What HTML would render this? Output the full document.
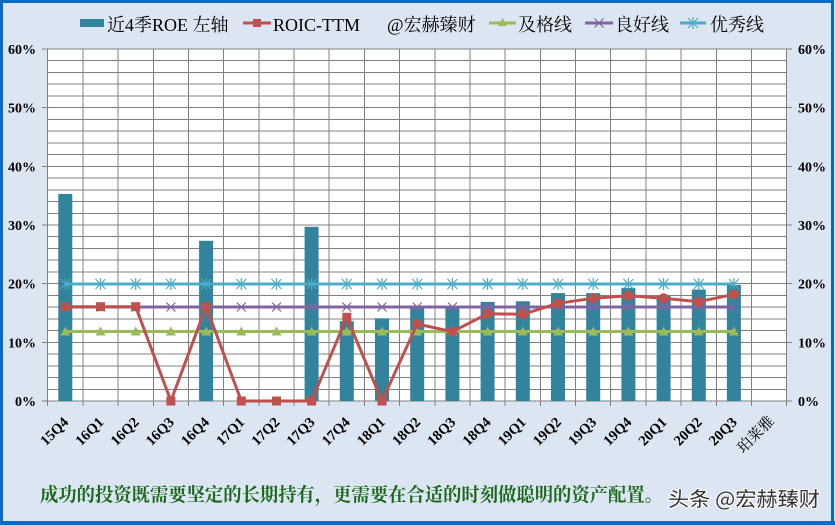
<!DOCTYPE html>
<html><head><meta charset="utf-8"><style>
html,body{margin:0;padding:0;background:#dce6f2;}
svg{display:block;}
.ax{font-family:"Liberation Serif","Noto Serif CJK SC",serif;font-weight:bold;font-size:14px;fill:#000;}
.xl{font-size:14.5px;}
.lg{font-family:"Liberation Serif","Noto Serif CJK SC",serif;font-size:18px;fill:#000;}
</style></head><body>
<svg width="835" height="525" viewBox="0 0 835 525" xmlns="http://www.w3.org/2000/svg">
<rect x="0" y="0" width="835" height="525" fill="#dce6f2"/>
<rect x="1.5" y="1.5" width="831" height="521" fill="none" stroke="#0b6ac4" stroke-width="3"/>
<rect x="0" y="521" width="835" height="4" fill="#0b6ac4"/>
<!-- plot area -->
<rect x="47.7" y="49" width="739" height="352" fill="#fff"/>
<g stroke="#808080" stroke-width="1" shape-rendering="crispEdges">
<line x1="47.7" x2="786.7" y1="389.3" y2="389.3"/><line x1="47.7" x2="786.7" y1="377.5" y2="377.5"/><line x1="47.7" x2="786.7" y1="365.8" y2="365.8"/><line x1="47.7" x2="786.7" y1="354.1" y2="354.1"/><line x1="47.7" x2="786.7" y1="342.3" y2="342.3"/><line x1="47.7" x2="786.7" y1="330.6" y2="330.6"/><line x1="47.7" x2="786.7" y1="318.9" y2="318.9"/><line x1="47.7" x2="786.7" y1="307.1" y2="307.1"/><line x1="47.7" x2="786.7" y1="295.4" y2="295.4"/><line x1="47.7" x2="786.7" y1="283.7" y2="283.7"/><line x1="47.7" x2="786.7" y1="271.9" y2="271.9"/><line x1="47.7" x2="786.7" y1="260.2" y2="260.2"/><line x1="47.7" x2="786.7" y1="248.5" y2="248.5"/><line x1="47.7" x2="786.7" y1="236.7" y2="236.7"/><line x1="47.7" x2="786.7" y1="225" y2="225"/><line x1="47.7" x2="786.7" y1="213.3" y2="213.3"/><line x1="47.7" x2="786.7" y1="201.5" y2="201.5"/><line x1="47.7" x2="786.7" y1="189.8" y2="189.8"/><line x1="47.7" x2="786.7" y1="178.1" y2="178.1"/><line x1="47.7" x2="786.7" y1="166.3" y2="166.3"/><line x1="47.7" x2="786.7" y1="154.6" y2="154.6"/><line x1="47.7" x2="786.7" y1="142.9" y2="142.9"/><line x1="47.7" x2="786.7" y1="131.1" y2="131.1"/><line x1="47.7" x2="786.7" y1="119.4" y2="119.4"/><line x1="47.7" x2="786.7" y1="107.7" y2="107.7"/><line x1="47.7" x2="786.7" y1="95.9" y2="95.9"/><line x1="47.7" x2="786.7" y1="84.2" y2="84.2"/><line x1="47.7" x2="786.7" y1="72.5" y2="72.5"/><line x1="47.7" x2="786.7" y1="60.7" y2="60.7"/><line x1="47.7" x2="786.7" y1="49" y2="49"/>
<line y1="49" y2="406" x1="47.7" x2="47.7"/><line y1="49" y2="406" x1="82.9" x2="82.9"/><line y1="49" y2="406" x1="118.1" x2="118.1"/><line y1="49" y2="406" x1="153.3" x2="153.3"/><line y1="49" y2="406" x1="188.5" x2="188.5"/><line y1="49" y2="406" x1="223.7" x2="223.7"/><line y1="49" y2="406" x1="258.8" x2="258.8"/><line y1="49" y2="406" x1="294" x2="294"/><line y1="49" y2="406" x1="329.2" x2="329.2"/><line y1="49" y2="406" x1="364.4" x2="364.4"/><line y1="49" y2="406" x1="399.6" x2="399.6"/><line y1="49" y2="406" x1="434.8" x2="434.8"/><line y1="49" y2="406" x1="470" x2="470"/><line y1="49" y2="406" x1="505.2" x2="505.2"/><line y1="49" y2="406" x1="540.4" x2="540.4"/><line y1="49" y2="406" x1="575.6" x2="575.6"/><line y1="49" y2="406" x1="610.7" x2="610.7"/><line y1="49" y2="406" x1="645.9" x2="645.9"/><line y1="49" y2="406" x1="681.1" x2="681.1"/><line y1="49" y2="406" x1="716.3" x2="716.3"/><line y1="49" y2="406" x1="751.5" x2="751.5"/><line y1="49" y2="406" x1="786.7" x2="786.7"/>
<line x1="47.7" x2="786.7" y1="401" y2="401"/>
<line x1="42" x2="47.7" y1="401" y2="401"/><line x1="42" x2="47.7" y1="342.3" y2="342.3"/><line x1="42" x2="47.7" y1="283.7" y2="283.7"/><line x1="42" x2="47.7" y1="225" y2="225"/><line x1="42" x2="47.7" y1="166.3" y2="166.3"/><line x1="42" x2="47.7" y1="107.7" y2="107.7"/><line x1="42" x2="47.7" y1="49" y2="49"/>
<line x1="786.7" x2="792" y1="401" y2="401"/><line x1="786.7" x2="792" y1="342.3" y2="342.3"/><line x1="786.7" x2="792" y1="283.7" y2="283.7"/><line x1="786.7" x2="792" y1="225" y2="225"/><line x1="786.7" x2="792" y1="166.3" y2="166.3"/><line x1="786.7" x2="792" y1="107.7" y2="107.7"/><line x1="786.7" x2="792" y1="49" y2="49"/>
</g>
<!-- bars -->
<g fill="#31849b">
<rect x="58.3" y="193.9" width="14" height="207.1"/>
<rect x="199.1" y="240.8" width="14" height="160.2"/>
<rect x="304.6" y="226.8" width="14" height="174.2"/>
<rect x="339.8" y="321.2" width="14" height="79.8"/>
<rect x="375" y="318.3" width="14" height="82.7"/>
<rect x="410.2" y="307.7" width="14" height="93.3"/>
<rect x="445.4" y="307.7" width="14" height="93.3"/>
<rect x="480.6" y="301.9" width="14" height="99.1"/>
<rect x="515.8" y="301.3" width="14" height="99.7"/>
<rect x="551" y="293.1" width="14" height="107.9"/>
<rect x="586.2" y="293.1" width="14" height="107.9"/>
<rect x="621.4" y="287.8" width="14" height="113.2"/>
<rect x="656.6" y="296" width="14" height="105"/>
<rect x="691.8" y="289.5" width="14" height="111.5"/>
<rect x="726.9" y="284.8" width="14" height="116.2"/>
</g>
<defs>
<polygon id="tri" points="0,-5 5,4 -5,4" fill="#9bbb59"/>
<path id="xm" d="M-4.5,-4.5L4.5,4.5M-4.5,4.5L4.5,-4.5" stroke="#8064a2" stroke-width="1.2" fill="none"/>
<path id="st" d="M-5,-5L5,5M-5,5L5,-5M0,-6L0,6" stroke="#4bacc6" stroke-width="1.2" fill="none"/>
<rect id="sq" x="-4.5" y="-4.5" width="9" height="9" fill="#c0504d"/>
<circle id="ci" r="5" fill="#c0504d"/>
</defs>
<line x1="65.3" x2="733.9" y1="331.5" y2="331.5" stroke="#9bbb59" stroke-width="3"/>
<g>
<use href="#tri" x="65.3" y="331.5"/><use href="#tri" x="100.5" y="331.5"/><use href="#tri" x="135.7" y="331.5"/><use href="#tri" x="170.9" y="331.5"/><use href="#tri" x="206.1" y="331.5"/><use href="#tri" x="241.3" y="331.5"/><use href="#tri" x="276.5" y="331.5"/><use href="#tri" x="311.6" y="331.5"/><use href="#tri" x="346.8" y="331.5"/><use href="#tri" x="382" y="331.5"/><use href="#tri" x="417.2" y="331.5"/><use href="#tri" x="452.4" y="331.5"/><use href="#tri" x="487.6" y="331.5"/><use href="#tri" x="522.8" y="331.5"/><use href="#tri" x="558" y="331.5"/><use href="#tri" x="593.2" y="331.5"/><use href="#tri" x="628.4" y="331.5"/><use href="#tri" x="663.6" y="331.5"/><use href="#tri" x="698.8" y="331.5"/><use href="#tri" x="733.9" y="331.5"/>
</g>
<line x1="65.3" x2="733.9" y1="307" y2="307" stroke="#8064a2" stroke-width="3"/>
<g>
<use href="#xm" x="65.3" y="307"/><use href="#xm" x="100.5" y="307"/><use href="#xm" x="135.7" y="307"/><use href="#xm" x="170.9" y="307"/><use href="#xm" x="206.1" y="307"/><use href="#xm" x="241.3" y="307"/><use href="#xm" x="276.5" y="307"/><use href="#xm" x="311.6" y="307"/><use href="#xm" x="346.8" y="307"/><use href="#xm" x="382" y="307"/><use href="#xm" x="417.2" y="307"/><use href="#xm" x="452.4" y="307"/><use href="#xm" x="487.6" y="307"/><use href="#xm" x="522.8" y="307"/><use href="#xm" x="558" y="307"/><use href="#xm" x="593.2" y="307"/><use href="#xm" x="628.4" y="307"/><use href="#xm" x="663.6" y="307"/><use href="#xm" x="698.8" y="307"/><use href="#xm" x="733.9" y="307"/>
</g>
<line x1="65.3" x2="733.9" y1="284" y2="284" stroke="#4bacc6" stroke-width="3"/>
<g>
<use href="#st" x="65.3" y="284"/><use href="#st" x="100.5" y="284"/><use href="#st" x="135.7" y="284"/><use href="#st" x="170.9" y="284"/><use href="#st" x="206.1" y="284"/><use href="#st" x="241.3" y="284"/><use href="#st" x="276.5" y="284"/><use href="#st" x="311.6" y="284"/><use href="#st" x="346.8" y="284"/><use href="#st" x="382" y="284"/><use href="#st" x="417.2" y="284"/><use href="#st" x="452.4" y="284"/><use href="#st" x="487.6" y="284"/><use href="#st" x="522.8" y="284"/><use href="#st" x="558" y="284"/><use href="#st" x="593.2" y="284"/><use href="#st" x="628.4" y="284"/><use href="#st" x="663.6" y="284"/><use href="#st" x="698.8" y="284"/><use href="#st" x="733.9" y="284"/>
</g>
<polyline fill="none" stroke="#c0504d" stroke-width="3" stroke-linejoin="round" points="65.3,306.7 100.5,306.7 135.7,306.7 170.9,401 206.1,306.7 241.3,401 276.5,401 311.6,401 346.8,317.3 382,401 417.2,324 452.4,331.7 487.6,313.7 522.8,314.3 558,303.3 593.2,298.3 628.4,295.7 663.6,298.3 698.8,301.7 733.9,294.3"/>
<g>
<use href="#sq" x="65.3" y="306.7"/><use href="#sq" x="100.5" y="306.7"/><use href="#sq" x="135.7" y="306.7"/><use href="#sq" x="170.9" y="401"/><use href="#sq" x="206.1" y="306.7"/><use href="#sq" x="241.3" y="401"/><use href="#sq" x="276.5" y="401"/><use href="#sq" x="311.6" y="401"/><use href="#sq" x="346.8" y="317.3"/><use href="#sq" x="382" y="401"/>
<use href="#ci" x="417.2" y="324"/><use href="#ci" x="452.4" y="331.7"/><use href="#ci" x="487.6" y="313.7"/><use href="#ci" x="522.8" y="314.3"/><use href="#ci" x="558" y="303.3"/><use href="#ci" x="593.2" y="298.3"/><use href="#ci" x="628.4" y="295.7"/><use href="#ci" x="663.6" y="298.3"/><use href="#ci" x="698.8" y="301.7"/><use href="#ci" x="733.9" y="294.3"/>
</g>
<g class="ax" text-anchor="end">
<text x="36" y="406">0%</text><text x="36" y="347.3">10%</text><text x="36" y="288.7">20%</text><text x="36" y="230">30%</text><text x="36" y="171.3">40%</text><text x="36" y="112.7">50%</text><text x="36" y="54">60%</text>
</g>
<g class="ax" text-anchor="start">
<text x="798" y="406">0%</text><text x="798" y="347.3">10%</text><text x="798" y="288.7">20%</text><text x="798" y="230">30%</text><text x="798" y="171.3">40%</text><text x="798" y="112.7">50%</text><text x="798" y="54">60%</text>
</g>
<g class="ax xl" text-anchor="end">
<text transform="translate(69.3,423) rotate(-45)">15Q4</text>
<text transform="translate(104.5,423) rotate(-45)">16Q1</text>
<text transform="translate(139.7,423) rotate(-45)">16Q2</text>
<text transform="translate(174.9,423) rotate(-45)">16Q3</text>
<text transform="translate(210.1,423) rotate(-45)">16Q4</text>
<text transform="translate(245.3,423) rotate(-45)">17Q1</text>
<text transform="translate(280.5,423) rotate(-45)">17Q2</text>
<text transform="translate(315.6,423) rotate(-45)">17Q3</text>
<text transform="translate(350.8,423) rotate(-45)">17Q4</text>
<text transform="translate(386,423) rotate(-45)">18Q1</text>
<text transform="translate(421.2,423) rotate(-45)">18Q2</text>
<text transform="translate(456.4,423) rotate(-45)">18Q3</text>
<text transform="translate(491.6,423) rotate(-45)">18Q4</text>
<text transform="translate(526.8,423) rotate(-45)">19Q1</text>
<text transform="translate(562,423) rotate(-45)">19Q2</text>
<text transform="translate(597.2,423) rotate(-45)">19Q3</text>
<text transform="translate(632.4,423) rotate(-45)">19Q4</text>
<text transform="translate(667.6,423) rotate(-45)">20Q1</text>
<text transform="translate(702.8,423) rotate(-45)">20Q2</text>
<text transform="translate(737.9,423) rotate(-45)">20Q3</text>
<text transform="translate(775,422) rotate(-45)" style="font-weight:normal;font-size:15px">珀莱雅</text>
</g>
<rect x="80" y="19" width="24" height="8" fill="#31849b"/>
<text class="lg" x="107" y="31">近4季ROE 左轴</text>
<line x1="243" x2="271" y1="23" y2="23" stroke="#c0504d" stroke-width="3"/>
<rect x="253" y="19" width="8" height="8" fill="#c0504d"/>
<text class="lg" x="273" y="31">ROIC-TTM</text>
<text class="lg" x="387" y="31">@宏赫臻财</text>
<line x1="489" x2="516" y1="23" y2="23" stroke="#9bbb59" stroke-width="3"/>
<polygon points="502.5,18 507,26 498,26" fill="#9bbb59"/>
<text class="lg" x="518" y="31">及格线</text>
<line x1="585" x2="613" y1="23" y2="23" stroke="#8064a2" stroke-width="3"/>
<path d="M594.5,18.5L603.5,27.5M594.5,27.5L603.5,18.5" stroke="#8064a2" stroke-width="1.2"/>
<text class="lg" x="615" y="31">良好线</text>
<line x1="680" x2="706" y1="23" y2="23" stroke="#4bacc6" stroke-width="3"/>
<path d="M688,18L698,28M688,28L698,18M693,17L693,29" stroke="#4bacc6" stroke-width="1.2"/>
<text class="lg" x="710" y="31">优秀线</text>
<text x="40" y="501" textLength="623" lengthAdjust="spacingAndGlyphs" style="font-family:'Liberation Serif','Noto Serif CJK SC',serif;font-weight:bold;font-size:19px;fill:#1a681a;">成功的投资既需要坚定的长期持有，更需要在合适的时刻做聪明的资产配置。</text>
<text x="668" y="506" textLength="152" lengthAdjust="spacingAndGlyphs" style="font-family:'Noto Sans CJK SC',sans-serif;font-size:20px;fill:#333;stroke:#fff;stroke-width:2px;paint-order:stroke;">头条 @宏赫臻财</text>
</svg>
</body></html>
